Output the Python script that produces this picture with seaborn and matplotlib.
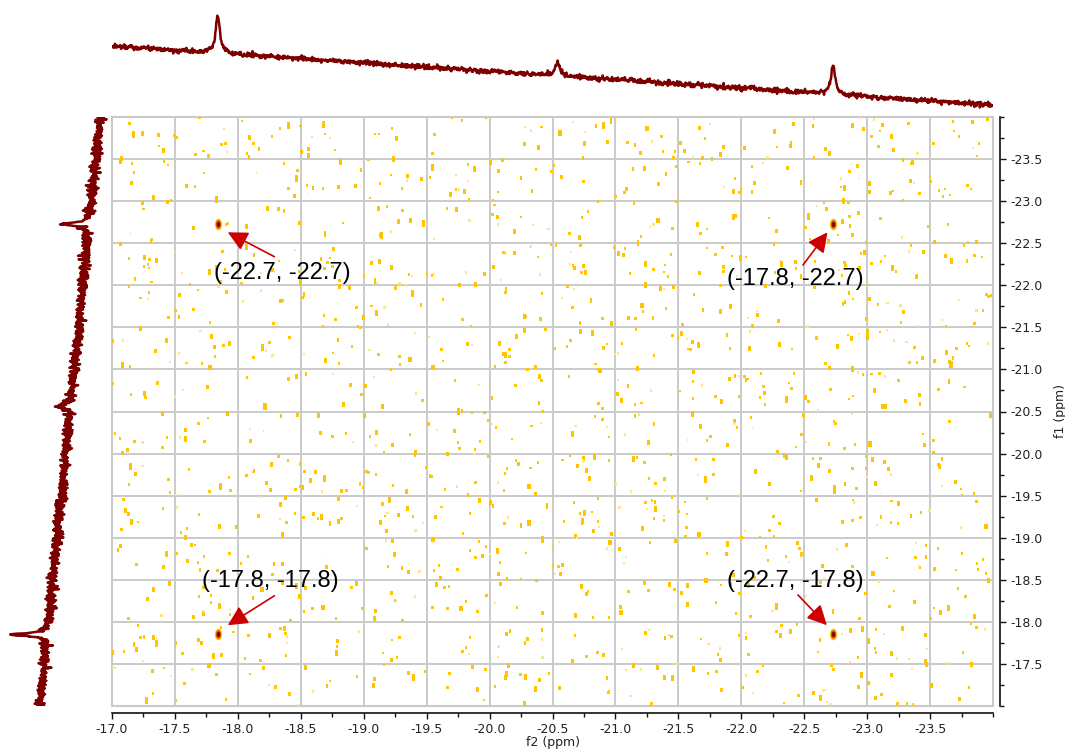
import numpy as np
import matplotlib
matplotlib.use("Agg")
import matplotlib.pyplot as plt
from matplotlib.path import Path
from matplotlib.ticker import MultipleLocator, FixedLocator, FormatStrFormatter
import pandas as pd
import seaborn as sns

sns.set_theme(style="white")
plt.rcParams["font.family"] = ["DejaVu Sans"]
plt.rcParams["axes.unicode_minus"] = False

# spectral window (ppm)
f2_limits = (-17.0, -24.0)
f1_limits = (-17.0, -24.0)
f2_tick_labels = [-17.0, -17.5, -18.0, -18.5, -19.0, -19.5, -20.0,
                  -20.5, -21.0, -21.5, -22.0, -22.5, -23.0, -23.5]
f1_tick_labels = [-17.5, -18.0, -18.5, -19.0, -19.5, -20.0, -20.5,
                  -21.0, -21.5, -22.0, -22.5, -23.0, -23.5]

# f2 (horizontal) projection: peak positions, heights, sloping baseline
f2_peak_ppm = [-17.84, -20.54, -22.73]
f2_peak_height = [38.0, 14.0, 29.0]
f2_baseline = (66.0, 7.0)          # intensity at -17.0 and at -24.0 ppm

# f1 (vertical) projection
f1_peak_ppm = [-22.73, -20.56, -17.85]
f1_peak_height = [29.0, 14.5, 37.0]
f1_baseline = (72.0, 12.0)         # intensity at -17.0 and at -24.0 ppm

# cross peaks in the 2D map
cross_f2 = [-17.84, -22.73, -17.84, -22.73]
cross_f1 = [-22.73, -22.73, -17.85, -17.85]

# peak annotations
label_text = ["(-22.7, -22.7)", "(-17.8, -22.7)", "(-17.8, -17.8)", "(-22.7, -17.8)"]
label_f2 = [-18.35, -22.43, -18.26, -22.43]
label_f1 = [-22.15, -22.08, -18.48, -18.48]
arrow_tail_f2 = [-18.29, -22.49, -18.29, -22.45]
arrow_tail_f1 = [-22.34, -22.24, -18.31, -18.32]
arrow_tip_f2 = [-17.92, -22.685, -17.92, -22.68]
arrow_tip_f1 = [-22.63, -22.63, -17.96, -17.96]

LINE = "#7d0000"
GRID = "#cacaca"
TXT = "#222222"

rng = np.random.default_rng(11)


def lorentz(ppm, center, height, gamma=0.02):
    return height * gamma**2 / ((ppm - center) ** 2 + gamma**2)


def projection(ppm, base, centers, heights, noise):
    frac = (ppm - (-17.0)) / (-24.0 - (-17.0))
    trace = base[0] + (base[1] - base[0]) * frac
    for c, h in zip(centers, heights):
        trace = trace + lorentz(ppm, c, h)
    return trace + rng.normal(0, noise, ppm.size)


def box(half_width):
    return Path([(-half_width, -0.5), (half_width, -0.5), (half_width, 0.5),
                 (-half_width, 0.5), (-half_width, -0.5)], closed=True)


W, H = 1065, 749
fig = plt.figure(figsize=(W / 100, H / 100), dpi=100)

L, R, T, B = 112, 993, 117, 706


def frac_box(x0, x1, y0, y1):
    return [x0 / W, 1 - y1 / H, (x1 - x0) / W, (y1 - y0) / H]


ax = fig.add_axes(frac_box(L, R, T, B))
ax_top = fig.add_axes(frac_box(L, R, 5, 112))
ax_left = fig.add_axes(frac_box(0, 112, T, B))
ax_axis = fig.add_axes(frac_box(L, R, T, B), facecolor="none")

# ---- 2D map ----
ax.set_facecolor("white")
for a in (ax, ax_axis):
    a.set_xlim(*f2_limits)
    a.set_ylim(*f1_limits)
ax.xaxis.set_major_locator(MultipleLocator(0.5))
ax.yaxis.set_major_locator(MultipleLocator(0.5))
ax.grid(True, color=GRID, linewidth=1.4)
ax.tick_params(bottom=False, left=False, labelbottom=False, labelleft=False)
for s in ax.spines.values():
    s.set_color(GRID)
    s.set_linewidth(1.5)

# scattered noise contours: (count, size range, half-width, colour)
noise_groups = [
    (680, (3.0, 6.0), 0.42, "#ffc800"),
    (420, (7.0, 13.0), 0.33, "#ffc400"),
    (90, (15.0, 24.0), 0.24, "#ffc400"),
    (240, (1.5, 4.0), 0.45, "#ffe48a"),
]
for count, (smin, smax), hw, col in noise_groups:
    dots = pd.DataFrame({
        "f2": rng.uniform(-24.0, -17.0, count),
        "f1": rng.uniform(-24.0, -17.0, count),
    })
    sns.scatterplot(data=dots, x="f2", y="f1", marker=box(hw),
                    s=rng.uniform(smin, smax, count), color=col, linewidth=0,
                    legend=False, ax=ax, zorder=3)

# cross peaks: yellow rim, orange ring, dark core
theta = np.linspace(0, 2 * np.pi, 40)
ellipse = Path(np.column_stack([0.62 * np.cos(theta), np.sin(theta)]), closed=True)
for col, size in (("#ffc400", 70), ("#e06000", 38), ("#8b0000", 16)):
    sns.scatterplot(x=cross_f2, y=cross_f1, marker=ellipse, s=size, color=col,
                    linewidth=0, legend=False, ax=ax, zorder=4)

# annotations
for txt, tx, ty, ax0, ay0, ax1, ay1 in zip(label_text, label_f2, label_f1,
                                          arrow_tail_f2, arrow_tail_f1,
                                          arrow_tip_f2, arrow_tip_f1):
    ax.text(tx, ty, txt, ha="center", va="center", fontsize=17,
            family=["Liberation Sans", "DejaVu Sans"], color="black", zorder=6)
    ax.annotate("", xy=(ax1, ay1), xytext=(ax0, ay0), zorder=6,
                arrowprops=dict(arrowstyle="-|>,head_length=0.6,head_width=0.3",
                                mutation_scale=20, color="#cc0000", lw=1.2,
                                shrinkA=0, shrinkB=0))

# ---- axis lines with ticks (right and bottom, offset outward) ----
ax_axis.patch.set_visible(False)
for side in ("left", "top"):
    ax_axis.spines[side].set_visible(False)
for side in ("right", "bottom"):
    ax_axis.spines[side].set_position(("outward", 5))
    ax_axis.spines[side].set_color("#111111")
    ax_axis.spines[side].set_linewidth(1.2)
ax_axis.xaxis.set_major_locator(FixedLocator(f2_tick_labels))
ax_axis.xaxis.set_minor_locator(MultipleLocator(0.25))
ax_axis.yaxis.set_major_locator(FixedLocator(f1_tick_labels))
ax_axis.yaxis.set_minor_locator(MultipleLocator(0.25))
ax_axis.xaxis.set_major_formatter(FormatStrFormatter("%.1f"))
ax_axis.yaxis.set_major_formatter(FormatStrFormatter("%.1f"))
ax_axis.yaxis.tick_right()
ax_axis.yaxis.set_label_position("right")
ax_axis.tick_params(which="major", direction="out", length=4.5, width=1.0,
                    color="#111111", labelsize=9, labelcolor=TXT, pad=3,
                    bottom=True, right=True, left=False, top=False)
ax_axis.tick_params(which="minor", direction="out", length=2.6, width=1.0,
                    color="#111111", bottom=True, right=True, left=False, top=False)
ax_axis.set_xlabel("f2 (ppm)", fontsize=9, color=TXT, labelpad=0)
ax_axis.set_ylabel("f1 (ppm)", fontsize=9, color=TXT, labelpad=8, rotation=90)
ax_axis.grid(False)

# ---- f2 projection (top) ----
ppm2 = np.linspace(-17.0, -24.0, 1800)
top = pd.DataFrame({"ppm": ppm2,
                    "intensity": projection(ppm2, f2_baseline, f2_peak_ppm,
                                            f2_peak_height, 1.2)})
sns.lineplot(data=top, x="ppm", y="intensity", sort=False, estimator=None,
             color=LINE, linewidth=1.8, ax=ax_top)
ax_top.set_xlim(*f2_limits)
ax_top.set_ylim(0, 107)
ax_top.axis("off")

# ---- f1 projection (left) ----
ppm1 = np.linspace(-17.0, -24.0, 1800)
side = pd.DataFrame({"ppm": ppm1,
                     "intensity": projection(ppm1, f1_baseline, f1_peak_ppm,
                                             f1_peak_height, 2.4)})
sns.lineplot(data=side, x="intensity", y="ppm", sort=False, estimator=None,
             orient="y", color=LINE, linewidth=1.8, ax=ax_left)
ax_left.set_xlim(112, 0)
ax_left.set_ylim(*f1_limits)
ax_left.axis("off")

fig.savefig("out.png", dpi=100, facecolor="white")
